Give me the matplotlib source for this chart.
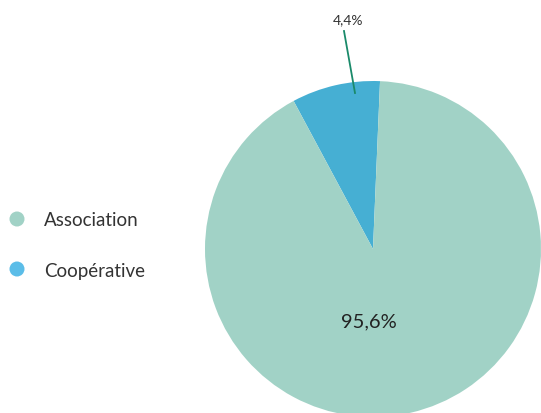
import matplotlib.pyplot as plt
from matplotlib.patches import Circle

plt.rcParams["font.family"] = ["Lato", "DejaVu Sans"]

categories = ["Coopérative", "Association"]
# wedge shares as drawn in the picture (the printed labels differ)
shares = [8.5, 91.5]
value_labels = ["4,4%", "95,6%"]
colors = ["#46afd3", "#a1d2c6"]
legend_names = ["Association", "Coopérative"]
legend_colors = ["#a1d2c6", "#5bbde8"]

W, H = 541, 414
fig = plt.figure(figsize=(W / 100, H / 100), dpi=100)
ax = fig.add_axes([0, 0, 1, 1])

cx, cy, r = 373, H - 250, 168
ax.pie(shares, colors=colors, startangle=87.6, center=(cx, cy), radius=r,
       wedgeprops=dict(linewidth=0), frame=True)
ax.set_xlim(0, W)
ax.set_ylim(0, H)
ax.set_aspect("equal")
ax.axis("off")

# labels
ax.text(369, H - 322, value_labels[1], ha="center", va="center",
        fontsize=14.5, color="#222222")
ax.plot([344, 355], [H - 32, H - 94], color="#1a8a6a", lw=1.3)
ax.text(348, H - 20, value_labels[0], ha="center", va="center",
        fontsize=10, color="#333333")

# legend
for i, (name, col) in enumerate(zip(legend_names, legend_colors)):
    y = H - (220 + 50 * i)
    ax.add_patch(Circle((17, y), 7.5, color=col, lw=0))
    ax.text(44, y - 1, name, ha="left", va="center", fontsize=13.5,
            color="#333333")

fig.savefig("out.png", dpi=100)
